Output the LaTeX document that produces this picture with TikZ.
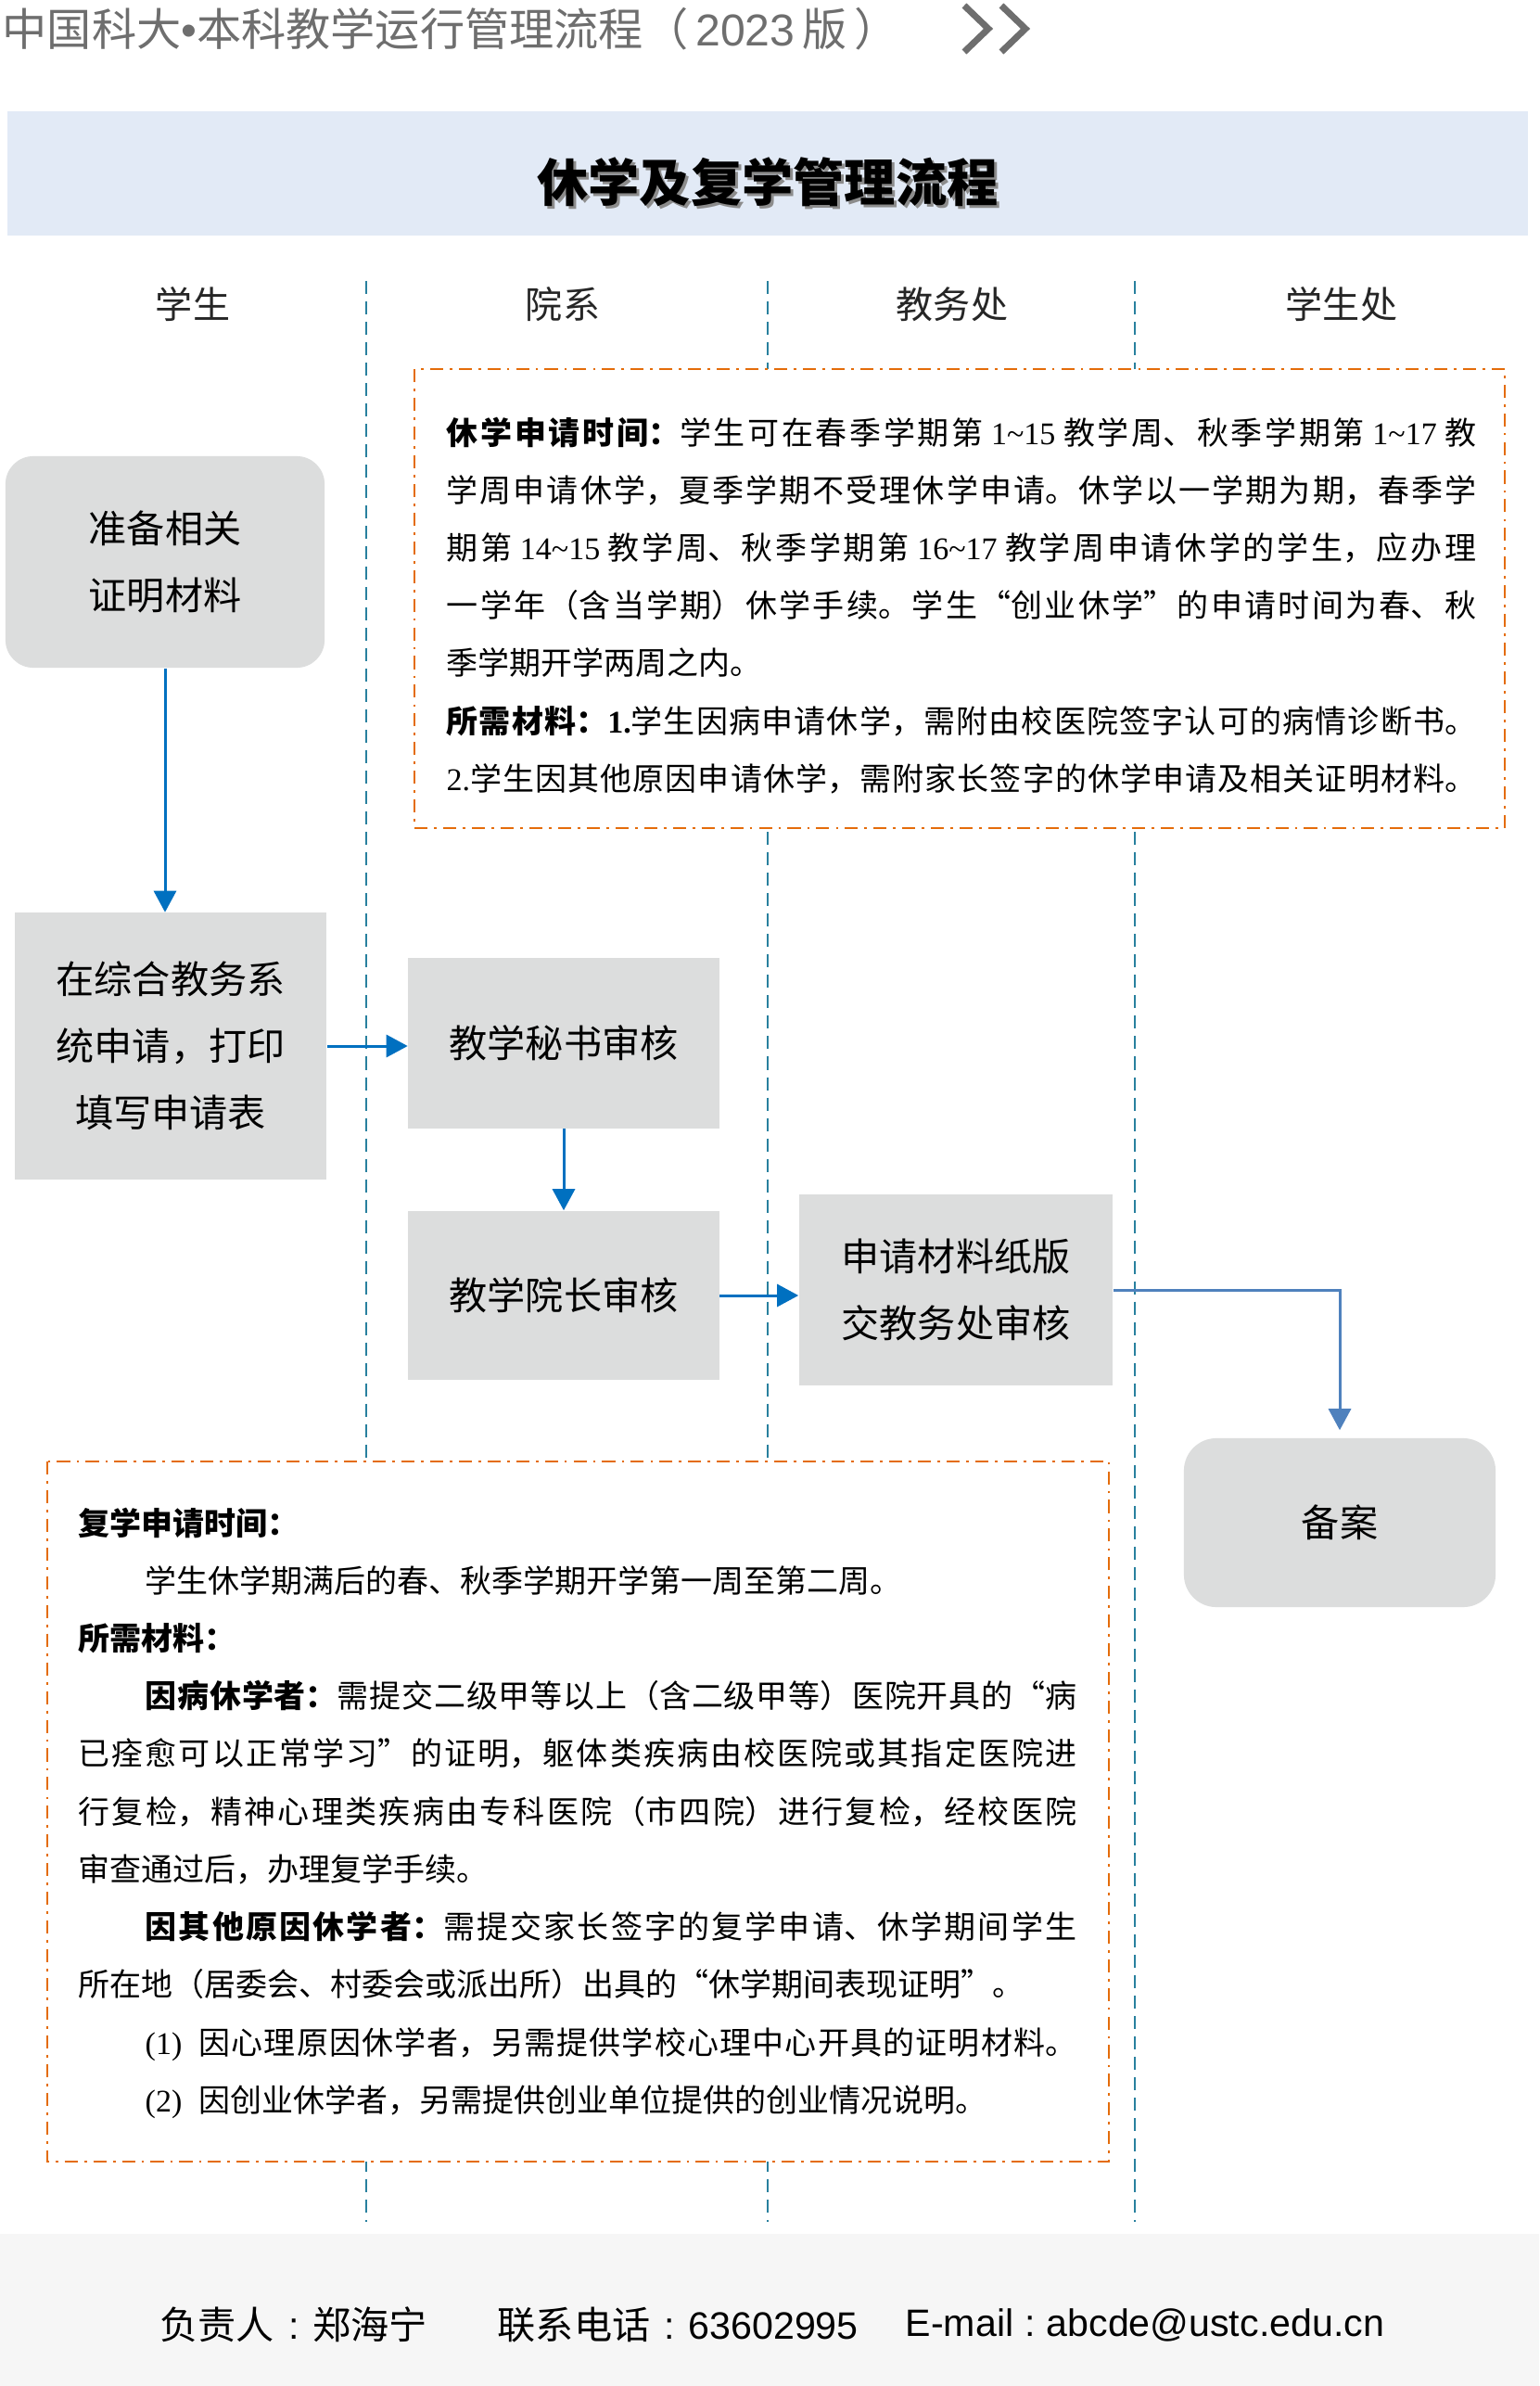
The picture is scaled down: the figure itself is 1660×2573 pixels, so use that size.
\documentclass[tikz,border=0pt]{standalone}
\usepackage{fontspec}
\setmainfont{Noto Sans CJK SC}
\newfontfamily\tnr{Liberation Serif}
\newfontfamily\arial{Liberation Sans}
\usetikzlibrary{arrows.meta}
\XeTeXlinebreaklocale "zh"
\XeTeXlinebreakskip=0pt plus 3pt
\definecolor{boxgray}{RGB}{220,221,221}
\definecolor{lanecol}{RGB}{40,128,158}
\definecolor{notecol}{RGB}{228,108,10}
\definecolor{flowblue}{RGB}{0,112,192}
\definecolor{flowsteel}{RGB}{79,129,189}
\definecolor{titlegray}{RGB}{110,110,110}
\definecolor{footgray}{RGB}{246,246,246}
\definecolor{bannerblue}{RGB}{226,234,246}
\def\jline#1{{\parfillskip=0pt #1\par}}
\def\rline#1{{#1\par}}
\def\ind{\hspace*{0.72cm}}
\tikzset{
	flowbox/.style={fill=boxgray, inner sep=0pt, align=center, font=\fontsize{11.7pt}{20.5pt}\selectfont},
	notebox/.style={draw=notecol, line width=0.025cm, fill=white, dash pattern=on 4pt off 2pt on 0.8pt off 2pt},
	lane/.style={draw=lanecol, line width=0.028cm, dash pattern=on 0.14cm off 0.08cm},
	flow/.style={draw=flowblue, line width=0.03cm, -{Triangle[width=0.24cm,length=0.23cm]}},
	notetext/.style={inner sep=0pt, anchor=base west, text width=#1, align=justify, font=\fontsize{9.67pt}{17.7pt}\selectfont},
	lanehead/.style={font=\fontsize{11.4pt}{13pt}\selectfont, text=black!85},
}

\begin{document}
\begin{tikzpicture}[x=0.01cm, y=-0.01cm]
		%%%%% PAGE %%%%%
		\fill[white] (0,0) rectangle (1660,2573);
		\useasboundingbox (0,0) rectangle (1660,2573);
		
		%%%%% HEADER %%%%%
		\node[anchor=west, inner sep=0pt, text=titlegray, font=\fontsize{13.7pt}{16pt}\selectfont] (doctitle) at (2,31) {中国科大{\arial •}本科教学运行管理流程（\,{\arial 2023}\,版\,）};
		\draw[titlegray, line width=0.07cm] (1040,6) -- (1066,31) -- (1040,56);
		\draw[titlegray, line width=0.07cm] (1080,6) -- (1106,31) -- (1080,56);
		
		\fill[bannerblue] (8,120) rectangle (1648,254);
		\node[text=black!45, font=\bfseries\fontsize{15.7pt}{18pt}\selectfont] (bannershadow) at (831,199) {休学及复学管理流程};
		\node[font=\bfseries\fontsize{15.7pt}{18pt}\selectfont] (banner) at (828,196) {休学及复学管理流程};
		
		%%%%% LANES %%%%%
		\node[lanehead] (hstudent) at (208,328) {学生};
		\node[lanehead] (hdept) at (607,328) {院系};
		\node[lanehead] (hoffice) at (1027,328) {教务处};
		\node[lanehead] (haffairs) at (1447,328) {学生处};
		
		\draw[lane] (395,303) -- (395,2396);
		\draw[lane] (828,303) -- (828,2396);
		\draw[lane] (1224,303) -- (1224,2396);
		
		%%%%% NOTES %%%%%
		\draw[notebox] (447,398) rectangle (1623,893);
		\node[notetext=11.1cm] (leavenote) at (481,479) {%
			\jline{\textbf{休学申请时间：}学生可在春季学期第 {\tnr 1\string~15} 教学周、秋季学期第 {\tnr 1\string~17} 教}
			\jline{学周申请休学，夏季学期不受理休学申请。休学以一学期为期，春季学}
			\jline{期第 {\tnr 14\string~15} 教学周、秋季学期第 {\tnr 16\string~17} 教学周申请休学的学生，应办理}
			\jline{一学年（含当学期）休学手续。学生“创业休学”的申请时间为春、秋}
			\rline{季学期开学两周之内。}
			\jline{\textbf{所需材料：{\tnr 1.}}学生因病申请休学，需附由校医院签字认可的病情诊断书。}
			\jline{{\tnr 2.}学生因其他原因申请休学，需附家长签字的休学申请及相关证明材料。}}; 
		
		\draw[notebox] (51,1576) rectangle (1196,2331);
		\node[notetext=10.76cm] (returnnote) at (84,1655) {%
			\rline{\textbf{复学申请时间：}}
			\rline{\ind 学生休学期满后的春、秋季学期开学第一周至第二周。}
			\rline{\textbf{所需材料：}}
			\jline{\ind\textbf{因病休学者：}需提交二级甲等以上（含二级甲等）医院开具的“病}
			\jline{已痊愈可以正常学习”的证明，躯体类疾病由校医院或其指定医院进}
			\jline{行复检，精神心理类疾病由专科医院（市四院）进行复检，经校医院}
			\rline{审查通过后，办理复学手续。}
			\jline{\ind\textbf{因其他原因休学者：}需提交家长签字的复学申请、休学期间学生}
			\rline{所在地（居委会、村委会或派出所）出具的“休学期间表现证明”。}
			\jline{\ind{\tnr (1)}\hspace{0.1cm} 因心理原因休学者，另需提供学校心理中心开具的证明材料。}
			\rline{\ind{\tnr (2)}\hspace{0.1cm} 因创业休学者，另需提供创业单位提供的创业情况说明。}};
		
		%%%%% FLOW %%%%%
		\node[flowbox, rounded corners=0.3cm, minimum width=3.44cm, minimum height=2.28cm] (prepare) at (178,606) {准备相关\\证明材料};
		\node[flowbox, minimum width=3.36cm, minimum height=2.87cm] (apply) at (184,1128) {在综合教务系\\统申请，打印\\填写申请表};
		\node[flowbox, minimum width=3.35cm, minimum height=1.83cm] (secretary) at (608,1125) {教学秘书审核};
		\node[flowbox, minimum width=3.35cm, minimum height=1.82cm] (dean) at (608,1397) {教学院长审核};
		\node[flowbox, minimum width=3.38cm, minimum height=2.06cm] (paper) at (1031,1391) {申请材料纸版\\交教务处审核};
		\node[flowbox, rounded corners=0.35cm, minimum width=3.36cm, minimum height=1.82cm] (archive) at (1445,1642) {备案};
		
		\draw[flow] (prepare.south) -- (prepare.south |- apply.north);
		\draw[flow] (apply.east) -- (apply.east -| secretary.west);
		\draw[flow] (secretary.south) -- (dean.north);
		\draw[flow] (dean.east) -- (dean.east -| paper.west);
		\draw[flow, draw=flowsteel, shorten >=0.08cm] (paper.east) -| (archive.north);
		
		%%%%% FOOTER %%%%%
		\fill[footgray] (0,2409) rectangle (1660,2573);
		\node[anchor=west, inner sep=0pt, font=\fontsize{11.7pt}{14pt}\selectfont] (foot1) at (172,2507) {负责人\hspace{0.15cm}{\arial :}\hspace{0.15cm}郑海宁};
		\node[anchor=west, inner sep=0pt, font=\fontsize{11.7pt}{14pt}\selectfont] (foot2) at (536,2507) {联系电话\hspace{0.15cm}{\arial :}\hspace{0.15cm}{\arial 63602995}};
		\node[anchor=west, inner sep=0pt, font=\fontsize{11.7pt}{14pt}\selectfont] (foot3) at (976,2507) {{\arial E-mail}\hspace{0.12cm}{\arial :}\hspace{0.12cm}{\arial abcde@ustc.edu.cn}};
	\end{tikzpicture}
\end{document}
